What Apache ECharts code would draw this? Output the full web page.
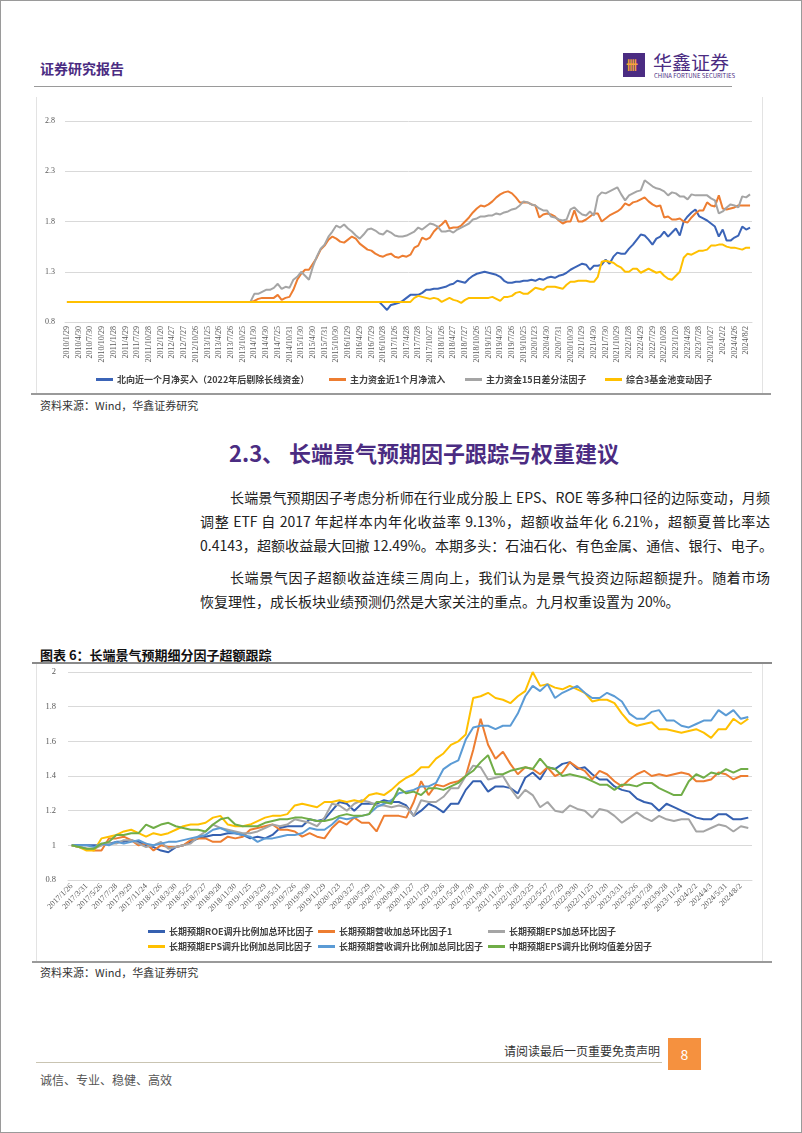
<!DOCTYPE html>
<html><head><meta charset="utf-8">
<script src="https://cdn.jsdelivr.net/npm/echarts@6/dist/echarts.min.js"></script>
<style>
html,body{margin:0;padding:0;background:#fff;}
#page{position:relative;width:802px;height:1133px;overflow:hidden;font-family:"Noto Sans CJK SC","Noto Sans",sans-serif;color:#222;}
.abs{position:absolute;white-space:nowrap;}
.frame{position:absolute;left:0;top:0;width:802px;height:1133px;box-sizing:border-box;border:1px solid #9a9a9a;pointer-events:none;}
.ln{position:absolute;font-size:14px;line-height:20px;height:20px;white-space:nowrap;color:#222;}
.j{text-align:justify;text-align-last:justify;}
</style></head>
<body><div id="page">
<div class="frame"></div>
<!-- header -->
<div class="abs" style="left:40px;top:58px;font-size:14px;line-height:20px;font-weight:bold;color:#4b2c82;">证券研究报告</div>
<div class="abs" style="left:623px;top:53px;width:22px;height:24px;background:#4b2c82;"></div>
<div class="abs" style="left:626px;top:57px;font-size:12px;line-height:16px;color:#f5a43a;font-weight:bold;">卌</div>
<div class="abs" style="left:653px;top:50px;font-size:19px;line-height:24px;color:#4b2c82;">华鑫证券</div>
<div class="abs" style="left:654px;top:72px;font-size:6px;line-height:7px;color:#4b2c82;">CHINA FORTUNE SECURITIES</div>
<div class="abs" style="left:34px;top:86px;width:698px;height:1px;background:#9a9a9a;"></div>

<!-- chart 1 -->
<div class="abs" style="left:36px;top:97px;width:1px;height:297px;background:#e3e3e3;"></div>
<div class="abs" style="left:762px;top:97px;width:1px;height:297px;background:#e3e3e3;"></div>
<div id="c1" class="abs" style="left:36px;top:97px;width:726px;height:297px;"></div>
<div class="abs" style="left:31px;top:393px;width:740px;height:2px;background:#9a9a9a;"></div>
<div class="abs" style="left:40px;top:397px;font-size:11px;line-height:16px;color:#333;">资料来源：Wind，华鑫证券研究</div>

<!-- heading -->
<div class="abs" style="left:229px;top:437px;font-size:22px;line-height:30px;font-weight:bold;color:#4b2c82;">2.3、 长端景气预期因子跟踪与权重建议</div>

<div class="ln j" style="left:230px;top:487px;width:540px;">长端景气预期因子考虑分析师在行业成分股上 EPS、ROE 等多种口径的边际变动，月频</div>
<div class="ln j" style="left:200px;top:511px;width:570px;">调整 ETF 自 2017 年起样本内年化收益率 9.13%，超额收益年化 6.21%，超额夏普比率达</div>
<div class="ln j" style="left:200px;top:535px;width:573px;">0.4143，超额收益最大回撤 12.49%。本期多头：石油石化、有色金属、通信、银行、电子。</div>
<div class="ln j" style="left:230px;top:567px;width:540px;">长端景气因子超额收益连续三周向上，我们认为是景气投资边际超额提升。随着市场</div>
<div class="ln" style="left:200px;top:591px;">恢复理性，成长板块业绩预测仍然是大家关注的重点。九月权重设置为 20%。</div>

<!-- chart 2 -->
<div class="abs" style="left:40px;top:645px;font-size:13px;line-height:20px;font-weight:bold;color:#111;">图表 6：长端景气预期细分因子超额跟踪</div>
<div class="abs" style="left:32px;top:662px;width:740px;height:2px;background:#8a8a8a;"></div>
<div class="abs" style="left:36px;top:664px;width:1px;height:297px;background:#e3e3e3;"></div>
<div class="abs" style="left:762px;top:664px;width:1px;height:297px;background:#e3e3e3;"></div>
<div id="c2" class="abs" style="left:36px;top:664px;width:726px;height:297px;"></div>
<div class="abs" style="left:32px;top:961px;width:740px;height:2px;background:#9a9a9a;"></div>
<div class="abs" style="left:40px;top:964px;font-size:11px;line-height:16px;color:#333;">资料来源：Wind，华鑫证券研究</div>

<!-- footer -->
<div class="abs" style="left:500px;top:1042px;width:160px;text-align:right;font-size:12px;line-height:18px;color:#333;">请阅读最后一页重要免责声明</div>
<div class="abs" style="left:668px;top:1038px;width:33px;height:32px;background:#f5913f;color:#fff;font-size:14px;line-height:32px;text-align:center;">8</div>
<div class="abs" style="left:36px;top:1062px;width:626px;height:1px;background:#c9c4b2;"></div>
<div class="abs" style="left:40px;top:1071px;font-size:12px;line-height:18px;color:#555;">诚信、专业、稳健、高效</div>
</div>

<script>
// ---------- Chart 1 data ----------
const c1Ticks = ["2010/1/29","2010/4/30","2010/7/30","2010/10/29","2011/1/28","2011/4/29","2011/7/29","2011/10/28","2012/1/20","2012/4/27","2012/7/27","2012/10/26","2013/1/25","2013/4/26","2013/7/26","2013/10/25","2014/1/30","2014/4/30","2014/7/25","2014/10/31","2015/1/30","2015/4/30","2015/7/31","2015/10/30","2016/1/29","2016/4/29","2016/7/29","2016/10/28","2017/1/26","2017/4/28","2017/7/28","2017/10/27","2018/1/26","2018/4/27","2018/7/27","2018/10/26","2019/1/25","2019/4/30","2019/7/26","2019/10/25","2020/1/23","2020/4/30","2020/7/31","2020/10/30","2021/1/29","2021/4/30","2021/7/30","2021/10/29","2022/1/28","2022/4/29","2022/7/29","2022/10/28","2023/1/20","2023/4/28","2023/7/28","2023/10/27","2024/2/2","2024/4/26","2024/8/2"];
const c1Names = ["北向近一个月净买入（2022年后剔除长线资金）","主力资金近1个月净流入","主力资金15日差分法因子","综合3基金池变动因子"];
const c1North = [
1,1,1,1,1,1,1,1,1,1, 1,1,1,1,1,1,1,1,1,1, 1,1,1,1,1,1,1,1,1,1, 1,1,1,1,1,1,1,1,1,1,
1,1,1,1,1,1,1,1,1,1, 1,1,1,1,1,1,1,1,1,1, 1,1,1,1,1,1,1,1,1,1, 1,1,1,1,1,1,1,1,1,1,
1.00,0.96,0.92,0.97,0.98,0.99,1.01,1.04,1.07,1.07,
1.07,1.09,1.12,1.12,1.13,1.13,1.14,1.15,1.17,1.18,
1.21,1.20,1.19,1.23,1.26,1.28,1.29,1.30,1.29,1.28,
1.27,1.25,1.21,1.19,1.19,1.20,1.20,1.21,1.21,1.22,
1.21,1.23,1.22,1.24,1.25,1.24,1.26,1.27,1.29,1.32,
1.34,1.36,1.38,1.37,1.32,1.36,1.36,1.37,1.42,1.38,
1.45,1.49,1.48,1.48,1.53,1.57,1.62,1.67,1.66,1.62,
1.57,1.63,1.65,1.70,1.65,1.69,1.73,1.66,1.80,1.85,
1.89,1.92,1.85,1.83,1.81,1.78,1.75,1.65,1.72,1.61,1.61,1.64,1.66,1.75,1.72,1.74];
const c1MainFlow = [
1,1,1,1,1,1,1,1,1,1, 1,1,1,1,1,1,1,1,1,1, 1,1,1,1,1,1,1,1,1,1, 1,1,1,1,1,1,1,1,1,1, 1,1,1,1,1,1,1,1,
1.01,1.03,1.04,1.04,1.04,1.04,1.07,1.02,1.04,1.05,
1.12,1.22,1.28,1.32,1.32,1.38,1.44,1.52,1.56,1.62,
1.65,1.63,1.60,1.59,1.62,1.65,1.63,1.58,1.55,1.52,
1.51,1.48,1.46,1.45,1.47,1.48,1.45,1.44,1.46,1.45,
1.47,1.54,1.56,1.64,1.62,1.64,1.70,1.74,1.77,1.81,
1.73,1.74,1.74,1.76,1.80,1.84,1.89,1.93,1.96,1.95,
1.97,2.00,2.04,2.07,2.09,2.10,2.08,2.04,1.99,1.99,
1.99,1.97,1.96,1.84,1.87,1.88,1.87,1.85,1.81,1.78,
1.80,1.80,1.91,1.80,1.80,1.82,1.85,1.88,1.88,1.80,
1.83,1.86,1.88,1.90,1.93,1.98,1.96,1.99,2.00,2.02,
2.04,2.00,1.97,1.95,1.96,1.84,1.85,1.82,1.82,1.83,
1.80,1.79,1.84,1.88,1.91,1.91,1.99,1.96,1.95,2.06,
1.93,1.92,1.93,1.94,1.96,1.96,1.96,1.96];
const c1Diff15 = [
1,1,1,1,1,1,1,1,1,1, 1,1,1,1,1,1,1,1,1,1, 1,1,1,1,1,1,1,1,1,1, 1,1,1,1,1,1,1,1,1,1, 1,1,1,1,1,1,1,1,
1.08,1.08,1.10,1.12,1.12,1.14,1.18,1.13,1.15,1.14,
1.22,1.25,1.30,1.26,1.22,1.35,1.45,1.53,1.57,1.65,
1.70,1.76,1.74,1.77,1.73,1.70,1.66,1.63,1.67,1.72,
1.73,1.71,1.68,1.67,1.71,1.69,1.66,1.65,1.65,1.66,
1.68,1.70,1.74,1.72,1.75,1.78,1.77,1.75,1.70,1.70,
1.71,1.69,1.72,1.74,1.76,1.78,1.82,1.83,1.85,1.85,
1.86,1.86,1.88,1.87,1.89,1.90,1.92,1.93,1.96,2.00,
1.99,1.97,1.96,1.93,1.91,1.91,1.85,1.84,1.82,1.81,
1.82,1.92,1.94,1.90,1.87,1.86,1.90,1.86,2.05,2.09,
2.08,2.10,2.12,2.14,2.07,2.01,2.06,2.08,2.10,2.11,
2.21,2.18,2.15,2.13,2.12,2.10,2.06,2.09,2.08,2.05,
2.05,2.02,2.07,2.06,2.06,2.06,2.06,2.03,2.01,1.88,
1.90,1.94,1.97,1.96,1.94,2.05,2.04,2.07];
const c1Fund3 = [
1,1,1,1,1,1,1,1,1,1, 1,1,1,1,1,1,1,1,1,1, 1,1,1,1,1,1,1,1,1,1, 1,1,1,1,1,1,1,1,1,1,
1,1,1,1,1,1,1,1,1,1, 1,1,1,1,1,1,1,1,1,1, 1,1,1,1,1,1,1,1,1,1, 1,1,1,1,1,1,1,1,1,1, 1,1,1,1,1,1,1,1,
1.00,1.04,1.06,1.05,1.04,1.03,1.04,1.03,1.00,1.02,
1.04,1.02,1.01,0.99,1.02,1.04,1.04,1.04,1.04,1.04,
1.04,1.05,1.03,1.01,1.05,1.05,1.06,1.09,1.10,1.08,
1.08,1.11,1.14,1.13,1.12,1.15,1.15,1.15,1.14,1.13,
1.17,1.20,1.20,1.21,1.21,1.21,1.20,1.20,1.25,1.40,
1.41,1.40,1.39,1.36,1.34,1.30,1.30,1.33,1.33,1.29,
1.31,1.33,1.31,1.29,1.30,1.26,1.23,1.22,1.26,1.30,
1.44,1.48,1.47,1.49,1.51,1.51,1.52,1.56,1.56,1.57,
1.57,1.55,1.54,1.54,1.53,1.52,1.54,1.54];

// ---------- Chart 2 data ----------
const c2Ticks = ["2017/1/26","2017/3/31","2017/5/26","2017/7/28","2017/9/29","2017/11/24","2018/1/26","2018/3/30","2018/5/25","2018/7/27","2018/9/28","2018/11/30","2019/1/25","2019/3/29","2019/5/31","2019/7/26","2019/9/30","2019/11/29","2020/1/23","2020/3/27","2020/5/29","2020/7/31","2020/9/30","2020/11/27","2021/1/29","2021/3/26","2021/5/28","2021/7/30","2021/9/30","2021/11/26","2022/1/28","2022/3/25","2022/5/27","2022/7/29","2022/9/30","2022/11/25","2023/1/20","2023/3/31","2023/5/26","2023/7/28","2023/9/28","2023/11/24","2024/2/2","2024/4/3","2024/5/31","2024/8/2"];
const c2Names = ["长期预期ROE调升比例加总环比因子","长期预期营收加总环比因子1","长期预期EPS加总环比因子","长期预期EPS调升比例加总同比因子","长期预期营收调升比例加总同比因子","中期预期EPS调升比例均值差分因子"];
const c2RoeQoq = [
1.00,1.00,1.00,1.00,1.00,1.01,1.02,1.02,1.03,1.02,
1.00,0.99,0.97,0.96,0.99,1.00,1.02,1.04,1.05,1.06,
1.06,1.07,1.07,1.06,1.04,1.05,1.04,1.06,1.10,1.11,
1.11,1.11,1.15,1.14,1.15,1.20,1.25,1.24,1.20,1.24,
1.24,1.24,1.26,1.25,1.25,1.23,1.17,1.20,1.24,1.22,
1.19,1.24,1.24,1.32,1.37,1.37,1.31,1.34,1.34,1.33,
1.30,1.39,1.42,1.38,1.45,1.44,1.47,1.48,1.44,1.45,
1.41,1.38,1.38,1.34,1.32,1.31,1.27,1.25,1.24,1.20,
1.24,1.22,1.20,1.18,1.16,1.15,1.15,1.18,1.18,1.15,
1.15,1.16];
const c2RevQoq = [
1.00,0.99,0.98,0.97,0.97,1.04,1.04,1.05,1.03,1.00,
1.01,0.97,1.00,0.99,0.99,1.00,1.03,1.04,1.04,1.02,
1.02,1.05,1.04,1.05,1.09,1.10,1.11,1.12,1.09,1.09,
1.08,1.05,1.07,1.05,1.04,1.10,1.14,1.12,1.16,1.13,
1.13,1.08,1.17,1.17,1.17,1.16,1.25,1.37,1.29,1.35,
1.34,1.36,1.37,1.40,1.55,1.73,1.58,1.50,1.54,1.47,
1.41,1.45,1.44,1.41,1.45,1.40,1.42,1.48,1.45,1.43,
1.38,1.43,1.41,1.37,1.34,1.38,1.41,1.43,1.40,1.41,
1.40,1.41,1.42,1.41,1.37,1.37,1.38,1.42,1.41,1.38,
1.40,1.40];
const c2EpsQoq = [
1.00,0.99,0.98,0.98,1.00,1.01,1.01,1.03,1.03,1.01,
0.99,1.00,1.02,0.98,0.99,1.00,1.01,1.05,1.08,1.12,
1.10,1.09,1.08,1.07,1.07,1.08,1.10,1.12,1.11,1.12,
1.15,1.14,1.13,1.11,1.16,1.24,1.23,1.20,1.24,1.26,
1.25,1.23,1.23,1.22,1.23,1.22,1.17,1.26,1.25,1.25,
1.28,1.33,1.33,1.40,1.46,1.45,1.38,1.39,1.40,1.33,
1.27,1.32,1.29,1.22,1.25,1.20,1.19,1.23,1.21,1.20,
1.16,1.21,1.20,1.17,1.13,1.16,1.19,1.16,1.14,1.17,
1.15,1.14,1.15,1.15,1.08,1.08,1.10,1.12,1.11,1.08,
1.11,1.10];
const c2EpsYoy = [
1.00,0.99,0.97,0.97,1.04,1.05,1.06,1.08,1.09,1.07,
1.05,1.07,1.06,1.07,1.09,1.11,1.12,1.12,1.13,1.16,
1.17,1.12,1.11,1.11,1.12,1.14,1.16,1.17,1.17,1.18,
1.23,1.24,1.23,1.22,1.25,1.25,1.26,1.25,1.26,1.25,
1.29,1.30,1.29,1.32,1.36,1.39,1.41,1.45,1.45,1.50,
1.53,1.58,1.60,1.64,1.85,1.86,1.88,1.85,1.84,1.82,
1.86,1.89,2.00,1.92,1.93,1.91,1.90,1.92,1.90,1.88,
1.83,1.84,1.84,1.82,1.76,1.71,1.69,1.70,1.71,1.67,
1.67,1.66,1.65,1.66,1.67,1.65,1.62,1.67,1.67,1.73,
1.70,1.73];
const c2RevYoy = [
1.00,1.00,1.00,0.99,1.01,1.00,1.02,1.01,1.02,1.03,
1.01,1.00,1.01,1.02,1.02,1.03,1.04,1.05,1.06,1.09,
1.10,1.08,1.07,1.06,1.05,1.02,1.04,1.04,1.05,1.06,
1.06,1.07,1.10,1.09,1.09,1.12,1.16,1.15,1.16,1.17,
1.18,1.22,1.24,1.26,1.30,1.31,1.32,1.34,1.34,1.36,
1.44,1.47,1.49,1.61,1.68,1.69,1.69,1.67,1.69,1.69,
1.76,1.86,1.92,1.89,1.93,1.85,1.88,1.90,1.92,1.88,
1.85,1.85,1.88,1.86,1.83,1.76,1.73,1.73,1.77,1.78,
1.72,1.72,1.69,1.68,1.70,1.72,1.72,1.78,1.75,1.78,
1.73,1.74];
const c2MidEps = [
1.00,0.99,0.98,0.98,1.01,1.02,1.06,1.06,1.07,1.07,
1.12,1.10,1.12,1.13,1.11,1.10,1.09,1.09,1.08,1.12,
1.15,1.16,1.12,1.11,1.11,1.11,1.13,1.14,1.15,1.15,
1.16,1.16,1.15,1.14,1.14,1.15,1.17,1.18,1.17,1.17,
1.18,1.25,1.25,1.24,1.33,1.30,1.31,1.29,1.33,1.33,
1.32,1.34,1.36,1.40,1.43,1.48,1.52,1.41,1.41,1.43,
1.44,1.45,1.44,1.50,1.45,1.44,1.40,1.41,1.40,1.39,
1.37,1.35,1.35,1.32,1.35,1.35,1.34,1.36,1.36,1.33,
1.31,1.29,1.29,1.37,1.41,1.39,1.42,1.41,1.44,1.42,
1.44,1.44];

// categories: labelled ticks plus month keys in between
function buildCats(ticks, step, total, y0, m0) {
  const cats = [];
  for (let i = 0; i < total; i++) {
    if (i % step === 0) cats.push(ticks[i / step]);
    else { const m = m0 - 1 + i; cats.push((y0 + Math.floor(m / 12)) + '/' + (m % 12 + 1) + '#'); }
  }
  return cats;
}
const c1Cats = buildCats(c1Ticks, 3, c1North.length, 2010, 1);
const c2Cats = buildCats(c2Ticks, 2, c2RoeQoq.length, 2017, 1);

const serif = '"Liberation Serif","DejaVu Serif",serif';
const cjk = '"Noto Sans CJK SC","Noto Sans",sans-serif';

function legendItem(name, left, top, size) {
  return { data: [name], left: left, top: top, padding: 0, itemWidth: 17, itemHeight: 3, itemGap: 4,
    icon: 'rect', selectedMode: false,
    textStyle: { fontFamily: cjk, fontSize: size, fontWeight: 'bold', color: '#404040', padding: [0,0,0,-1] } };
}
function lineSeries(name, data, color) {
  return { name: name, type: 'line', data: data, symbol: 'none', showSymbol: false,
    lineStyle: { width: 2, color: color }, itemStyle: { color: color }, animation: false };
}

// ---------- Chart 1 ----------
const ch1 = echarts.init(document.getElementById('c1'), null, { renderer: 'canvas' });
const c1Colors = ['#3b64b7', '#ed7d31', '#a5a5a5', '#ffc000'];
ch1.setOption({
  animation: false,
  grid: { left: 29, top: 24, width: 687, height: 201, containLabel: false },
  xAxis: { type: 'category', data: c1Cats, boundaryGap: true,
    axisLine: { lineStyle: { color: '#d9d9d9' } }, axisTick: { show: false },
    axisLabel: { interval: 2, rotate: 90, fontSize: 8, fontFamily: serif, color: '#595959', margin: 4,
      formatter: v => v.endsWith('#') ? '' : v } },
  yAxis: { type: 'value', min: 0.8, max: 2.8, interval: 0.5,
    axisLine: { show: false }, axisTick: { show: false },
    axisLabel: { fontSize: 8, fontFamily: serif, color: '#595959', margin: 10, formatter: v => v.toFixed(1) },
    splitLine: { lineStyle: { color: '#d9d9d9', width: 1 } } },
  legend: [
    legendItem(c1Names[0], 60, 278, 9),
    legendItem(c1Names[1], 293, 278, 9),
    legendItem(c1Names[2], 429, 278, 9),
    legendItem(c1Names[3], 569, 278, 9)
  ],
  series: [
    lineSeries(c1Names[0], c1North, c1Colors[0]),
    lineSeries(c1Names[1], c1MainFlow, c1Colors[1]),
    lineSeries(c1Names[2], c1Diff15, c1Colors[2]),
    lineSeries(c1Names[3], c1Fund3, c1Colors[3])
  ]
});

// ---------- Chart 2 ----------
const ch2 = echarts.init(document.getElementById('c2'), null, { renderer: 'canvas' });
const c2Colors = ['#3560b0', '#ed7d31', '#a5a5a5', '#ffc000', '#5b9bd5', '#70ad47'];
ch2.setOption({
  animation: false,
  grid: { left: 32, top: 8, width: 684, height: 208, containLabel: false },
  xAxis: { type: 'category', data: c2Cats, boundaryGap: true,
    axisLine: { lineStyle: { color: '#d9d9d9' } }, axisTick: { show: false },
    axisLabel: { interval: 1, rotate: 45, fontSize: 8, fontFamily: serif, color: '#595959', margin: 5,
      formatter: v => v.endsWith('#') ? '' : v } },
  yAxis: { type: 'value', min: 0.8, max: 2, interval: 0.2,
    axisLine: { show: false }, axisTick: { show: false },
    axisLabel: { fontSize: 8.5, fontFamily: serif, color: '#595959', margin: 12, formatter: v => String(parseFloat(v.toFixed(1))) },
    splitLine: { lineStyle: { color: '#d9d9d9', width: 1 } } },
  legend: [
    legendItem(c2Names[0], 112, 263, 9),
    legendItem(c2Names[1], 282, 263, 9),
    legendItem(c2Names[2], 452, 263, 9),
    legendItem(c2Names[3], 112, 278, 9),
    legendItem(c2Names[4], 282, 278, 9),
    legendItem(c2Names[5], 452, 278, 9)
  ],
  series: c2Names.map((n, k) => lineSeries(n, [c2RoeQoq, c2RevQoq, c2EpsQoq, c2EpsYoy, c2RevYoy, c2MidEps][k], c2Colors[k]))
});
</script>
</body></html>
